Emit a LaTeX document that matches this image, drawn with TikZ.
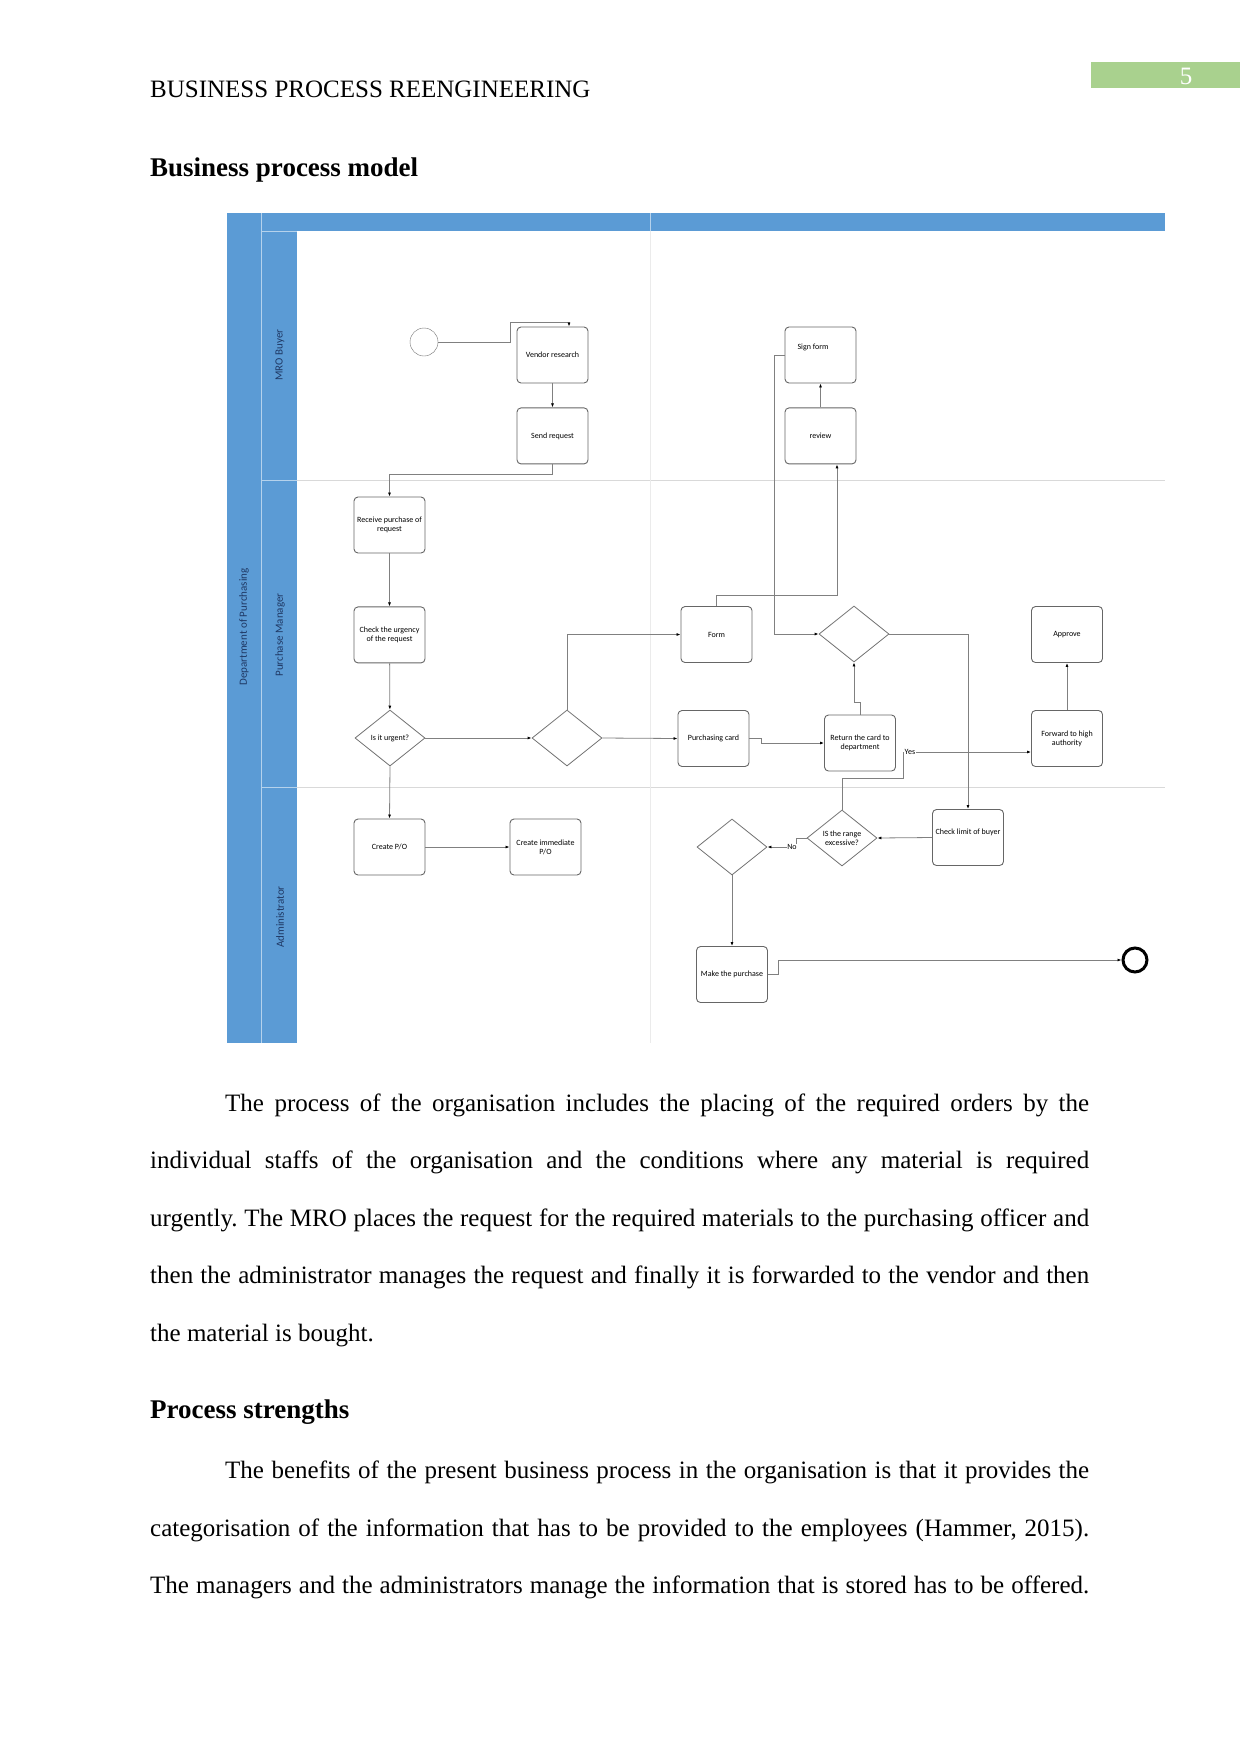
\documentclass[tikz,border=0pt]{standalone}
\usepackage{fontspec}
\setmainfont{Liberation Serif}
\newfontfamily\diagfont{Carlito}
\usetikzlibrary{arrows.meta,positioning,shapes.geometric,calc}

\definecolor{laneblue}{HTML}{5B9BD5}
\definecolor{lanetext}{HTML}{1F3864}
\definecolor{pagegreen}{HTML}{A9D18E}
\definecolor{flowgray}{HTML}{808080}

\tikzset{
  task/.style={draw=black!60, line width=0.9pt, rounded corners=4pt,
    minimum width=71pt, minimum height=56pt, align=center, inner sep=1pt,
    font=\diagfont\fontsize{8}{9}\selectfont},
  gate/.style={diamond, draw=black!55, line width=0.8pt, minimum width=70pt,
    minimum height=56pt, inner sep=0pt, align=center,
    font=\diagfont\fontsize{8}{9}\selectfont},
  flow/.style={draw=flowgray, line width=0.8pt,
    -{Latex[length=4pt,width=3pt,color=black]}},
  lanelbl/.style={rotate=90, text=lanetext, inner sep=0pt,
    font=\diagfont\fontsize{11}{12}\selectfont},
  body/.style={anchor=base west, inner sep=0pt, font=\fontsize{25}{30}\selectfont},
  headline/.style={body, font=\fontsize{27}{32}\selectfont\bfseries},
  tag/.style={inner sep=0.5pt, fill=white, font=\diagfont\fontsize{8}{9}\selectfont},
}

\begin{document}
\frenchspacing
\begin{tikzpicture}[x=1pt, y=-1pt, >=Latex]
  \useasboundingbox[fill=white] (0,0) rectangle (1241,1754);

  % running head and page number
  \node[body] (head) at (150,97) {BUSINESS PROCESS REENGINEERING};
  \node[fill=pagegreen, anchor=north west, minimum width=149pt, minimum height=26pt,
    inner sep=0pt] (pgbox) at (1091,62) {};
  \node[body, anchor=base, text=white] (pgno) at (1186,84) {5};

  % section heading
  \node[headline] (sec1) at (150,176) {Business process model};

  % pool and lanes
  \fill[laneblue] (227,213) rectangle (297,1043);
  \fill[laneblue] (297,213) rectangle (1165,231);
  \draw[white!55!laneblue, line width=0.8pt] (261,213) -- (261,1043);
  \draw[white!55!laneblue, line width=0.8pt] (261,231) -- (297,231);
  \draw[white!55!laneblue, line width=0.8pt] (261,480) -- (297,480);
  \draw[white!55!laneblue, line width=0.8pt] (261,787) -- (297,787);
  \draw[white!55!laneblue, line width=0.8pt] (650,213) -- (650,231);
  \draw[black!15, line width=0.8pt] (297,480) -- (1165,480);
  \draw[black!15, line width=0.8pt] (297,787) -- (1165,787);
  \draw[black!8, line width=0.8pt] (650,231) -- (650,1043);

  \node[lanelbl] (dept) at (244,627) {Department of Purchasing};
  \node[lanelbl] (mro) at (280,355) {MRO Buyer};
  \node[lanelbl] (pm) at (280,635) {Purchase Manager};
  \node[lanelbl] (adm) at (280,917) {Administrator};

  % MRO buyer lane
  \node[draw=black!55, circle, minimum size=28pt, inner sep=0pt] (start) at (424,342) {};
  \node[task] (vr) at (552.5,355) {Vendor research};
  \node[task, below=24pt of vr] (sr) {Send request};
  \node[task] (sign) at (820.5,355) {};
  \node[task, below=24pt of sign] (rev) {review};
  \node[inner sep=0pt, font=\diagfont\fontsize{8}{9}\selectfont] (signtxt) at ($(sign)+(-7.5,-8)$) {Sign form};

  % purchase manager lane
  \node[task] (rcv) at (389.5,525) {Receive purchase of\\request};
  \node[task, below=53pt of rcv] (chk) {Check the urgency\\of the request};
  \node[gate] (urgent) at (390,738) {Is it urgent?};
  \node[gate] (split) at (567,738) {};
  \node[task] (form) at (716.5,634.5) {Form};
  \node[task] (pcard) at (713.5,738.5) {Purchasing card};
  \node[gate] (cardq) at (854,634) {};
  \node[task] (ret) at (860,743) {Return the card to\\department};
  \node[task] (appr) at (1067,634.5) {Approve};
  \node[task] (fwd) at (1067,738.5) {Forward to high\\authority};

  % administrator lane
  \node[task] (cpo) at (389.5,847) {Create P/O};
  \node[task] (cipo) at (545.5,847) {Create immediate\\P/O};
  \node[gate] (range) at (842,838) {IS the range\\excessive?};
  \node[task] (chkl) at (968,837.5) {};
  \node[inner sep=0pt, font=\diagfont\fontsize{8}{9}\selectfont] (chkltxt) at ($(chkl)+(0,-5.5)$) {Check limit of buyer};
  \node[gate] (pay) at (732,847) {};
  \node[task] (buy) at (732,974.5) {Make the purchase};
  \node[circle, draw=black, line width=3pt, minimum size=24pt, inner sep=0pt] (end) at (1135,960) {};

  % flows
  \draw[flow] (start.east) -- (510,342) -- (510,322) -- (569,322) -- ([xshift=16.5pt]vr.north);
  \draw[flow] (vr) -- (sr);
  \draw[flow] (sr.south) -- ++(0,10) -| (rcv.north);
  \draw[flow] (rcv) -- (chk);
  \draw[flow] (chk) -- (urgent);
  \draw[flow] (urgent.east) -- (split.west);
  \draw[flow] (urgent.south) -- (cpo.north);
  \draw[flow] (cpo) -- (cipo);
  \draw[flow] (split.north) |- (form.west);
  \draw[flow] (split.east) -- (pcard.west);
  \draw[flow] (pcard.east) -- ++(12,0) |- (ret.west);
  \draw[flow] (ret.north) -- ++(0,-12) -| (cardq.south);
  \draw[flow] (form.north) -- ++(0,-11) -| ([xshift=16.5pt]rev.south);
  \draw[flow] (sign.west) -- ++(-10,0) |- (cardq.west);
  \draw[flow] (rev) -- (sign);
  \draw[flow] (cardq.east) -| (chkl.north);
  \draw[flow] (fwd) -- (appr);
  \draw[flow] (chkl.west) -- (range.east);
  \draw[flow] (range.north) -- ++(0,-31) -| (903,752) -- ([yshift=-13.5pt]fwd.west);
  \node[tag, anchor=west] (yes) at (904,752) {Yes};
  \draw[flow] (range.west) -- ++(-10,0) |- (pay.east);
  \node[tag] (no) at (792,847) {No};
  \draw[flow] (pay) -- (buy);
  \draw[flow] (buy.east) -- ++(10,0) |- (end.west);

  % body text
  \node[body] (p1a) at (225,1111) {\makebox[864pt][s]{The process of the organisation includes the placing of the required orders by the}};
  \node[body] (p1b) at (150,1168.5) {\makebox[939pt][s]{individual staffs of the organisation and the conditions where any material is required}};
  \node[body] (p1c) at (150,1226) {\makebox[939pt][s]{urgently. The MRO places the request for the required materials to the purchasing officer and}};
  \node[body] (p1d) at (150,1283.5) {\makebox[939pt][s]{then the administrator manages the request and finally it is forwarded to the vendor and then}};
  \node[body] (p1e) at (150,1341) {the material is bought.};

  \node[headline] (sec2) at (150,1418) {Process strengths};

  \node[body] (p2a) at (225,1478) {\makebox[864pt][s]{The benefits of the present business process in the organisation is that it provides the}};
  \node[body] (p2b) at (150,1536) {\makebox[939pt][s]{categorisation of the information that has to be provided to the employees (Hammer, 2015).}};
  \node[body] (p2c) at (150,1593) {\makebox[939pt][s]{The managers and the administrators manage the information that is stored has to be offered.}};
\end{tikzpicture}
\end{document}
